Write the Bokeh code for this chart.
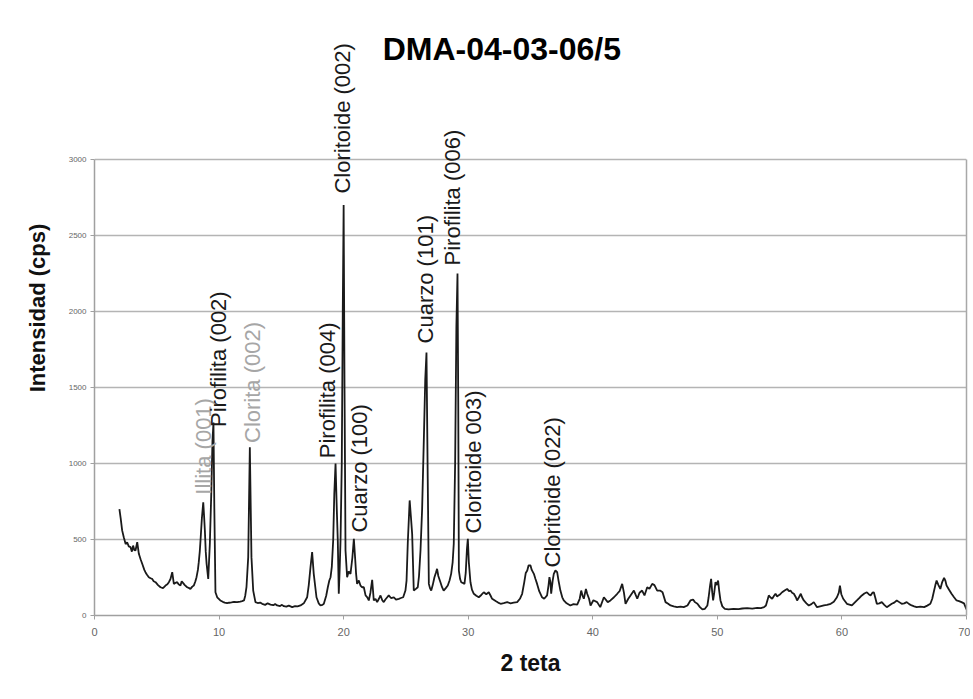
import math
from bokeh.plotting import figure
from bokeh.models import Range1d, ColumnDataSource, LabelSet, Label, FixedTicker, LinearAxis
from bokeh.core.properties import value
from bokeh.embed import file_html
from bokeh.resources import INLINE

# ---- data (2-theta in degrees, intensity in cps) ----
two_theta = [
    2.0, 2.1, 2.22, 2.35, 2.5, 2.62, 2.75, 2.89, 3.0, 3.1,
    3.2, 3.29, 3.43, 3.56, 3.7, 3.83, 4.0, 4.09, 4.2, 4.36,
    4.5, 4.63, 4.75, 4.9, 5.1, 5.3, 5.5, 5.7, 5.85, 5.97,
    6.1, 6.24, 6.37, 6.5, 6.64, 6.75, 6.9, 7.0, 7.12, 7.25,
    7.44, 7.6, 7.7, 7.85, 7.97, 8.1, 8.19, 8.3, 8.37, 8.45,
    8.51, 8.62, 8.73, 8.8, 8.86, 8.93, 9.0, 9.13, 9.26, 9.38,
    9.47, 9.55, 9.62, 9.71, 9.85, 10.1, 10.3, 10.45, 10.65, 10.8,
    11.0, 11.2, 11.45, 11.7, 11.85, 12.0, 12.1, 12.2, 12.34, 12.47,
    12.6, 12.74, 12.92, 13.1, 13.3, 13.46, 13.7, 13.9, 14.13, 14.35,
    14.5, 14.66, 14.9, 15.05, 15.2, 15.4, 15.6, 15.87, 16.1, 16.3,
    16.54, 16.8, 17.07, 17.2, 17.34, 17.47, 17.6, 17.82, 18.0, 18.14,
    18.3, 18.41, 18.6, 18.73, 18.85, 18.95, 19.05, 19.16, 19.25, 19.35,
    19.45, 19.53, 19.61, 19.68, 19.75, 19.85, 19.93, 20.0, 20.07, 20.15,
    20.28, 20.4, 20.55, 20.7, 20.82, 20.92, 21.0, 21.08, 21.22, 21.35,
    21.49, 21.62, 21.76, 21.9, 22.02, 22.15, 22.29, 22.42, 22.56, 22.69,
    22.83, 22.96, 23.1, 23.22, 23.35, 23.5, 23.62, 23.8, 24.03, 24.2,
    24.43, 24.6, 24.78, 24.96, 25.05, 25.15, 25.3, 25.4, 25.5, 25.63,
    25.8, 25.95, 26.05, 26.17, 26.3, 26.45, 26.55, 26.65, 26.75, 26.84,
    26.93, 27.03, 27.15, 27.29, 27.4, 27.5, 27.6, 27.77, 27.9, 28.03,
    28.2, 28.36, 28.5, 28.63, 28.75, 28.84, 28.95, 29.05, 29.14, 29.2,
    29.25, 29.35, 29.44, 29.55, 29.7, 29.8, 29.9, 29.97, 30.05, 30.18,
    30.3, 30.45, 30.65, 30.85, 31.05, 31.25, 31.45, 31.65, 31.8, 31.92,
    32.2, 32.4, 32.6, 32.85, 33.13, 33.4, 33.65, 33.93, 34.15, 34.33,
    34.5, 34.62, 34.74, 34.85, 35.0, 35.1, 35.27, 35.4, 35.53, 35.7,
    35.93, 36.1, 36.33, 36.45, 36.52, 36.6, 36.66, 36.78, 36.87, 37.0,
    37.14, 37.25, 37.4, 37.55, 37.67, 37.9, 38.2, 38.45, 38.75, 38.95,
    39.07, 39.18, 39.28, 39.45, 39.55, 39.7, 39.82, 40.05, 40.35, 40.6,
    40.89, 41.2, 41.42, 41.7, 41.96, 42.15, 42.36, 42.5, 42.63, 42.85,
    43.03, 43.3, 43.57, 43.75, 43.96, 44.15, 44.37, 44.55, 44.77, 44.95,
    45.17, 45.4, 45.6, 45.84, 46.05, 46.24, 46.5, 46.77, 47.05, 47.3,
    47.6, 47.84, 48.05, 48.2, 48.4, 48.6, 48.8, 49.0, 49.2, 49.3,
    49.42, 49.5, 49.58, 49.66, 49.75, 49.85, 49.95, 50.06, 50.15, 50.25,
    50.4, 50.6, 50.9, 51.3, 51.7, 52.0, 52.4, 52.8, 53.2, 53.5,
    53.75, 53.9, 54.13, 54.25, 54.4, 54.55, 54.67, 54.8, 54.9, 55.05,
    55.2, 55.4, 55.6, 55.75, 55.87, 56.0, 56.14, 56.3, 56.4, 56.55,
    56.7, 56.8, 56.94, 57.15, 57.34, 57.55, 57.74, 58.0, 58.25, 58.55,
    58.8, 59.1, 59.35, 59.6, 59.75, 59.84, 59.95, 60.1, 60.4, 60.8,
    61.2, 61.45, 61.6, 61.8, 62.0, 62.15, 62.3, 62.45, 62.56, 62.7,
    62.8, 63.0, 63.2, 63.4, 63.6, 63.8, 64.0, 64.2, 64.4, 64.6,
    64.8, 65.0, 65.2, 65.4, 65.6, 65.8, 66.0, 66.3, 66.6, 66.85,
    67.1, 67.25, 67.4, 67.5, 67.6, 67.75, 67.9, 68.05, 68.2, 68.3,
    68.4, 68.6, 68.8, 69.0, 69.2, 69.4, 69.6, 69.8, 70.0,
]
intensity = [
    700, 640, 560, 515, 470, 482, 455, 450, 420, 460,
    430, 428, 482, 406, 370, 340, 300, 285, 270, 252,
    245, 241, 225, 219, 200, 186, 180, 197, 205, 219,
    240, 285, 208, 215, 219, 205, 197, 225, 213, 200,
    186, 180, 175, 190, 197, 225, 252, 300, 351, 420,
    493, 640, 745, 650, 559, 420, 340, 241, 474, 820,
    1150, 1270, 700, 153, 120, 99, 90, 85, 81, 84,
    86, 90, 88, 92, 95, 99, 130, 186, 384, 1107,
    384, 164, 88, 82, 85, 77, 70, 80, 72, 68,
    75, 66, 62, 70, 61, 58, 65, 55, 62, 60,
    66, 80, 120, 200, 318, 417, 274, 120, 80, 66,
    70, 77, 130, 186, 230, 252, 320, 493, 800, 1000,
    700, 493, 143, 300, 493, 1000, 2000, 2700, 1500, 428,
    252, 290, 274, 380, 505, 380, 274, 208, 230, 197,
    186, 186, 132, 120, 99, 150, 235, 99, 110, 88,
    110, 132, 100, 88, 105, 120, 132, 115, 120, 105,
    110, 115, 120, 164, 230, 480, 757, 650, 537, 164,
    175, 186, 260, 428, 700, 1200, 1550, 1730, 900, 208,
    180, 164, 200, 252, 280, 307, 260, 219, 186, 164,
    180, 197, 230, 274, 350, 472, 1000, 1900, 2250, 1400,
    296, 240, 219, 215, 208, 280, 440, 505, 350, 219,
    170, 143, 130, 120, 135, 153, 140, 153, 130, 110,
    95, 85, 77, 82, 88, 80, 85, 88, 110, 143,
    220, 280, 296, 330, 329, 300, 274, 240, 208, 160,
    120, 110, 132, 200, 252, 220, 143, 230, 274, 296,
    285, 230, 164, 120, 99, 80, 66, 75, 72, 110,
    164, 130, 110, 175, 143, 110, 66, 100, 88, 55,
    120, 88, 99, 120, 143, 160, 208, 150, 77, 110,
    132, 164, 110, 150, 164, 132, 186, 175, 208, 200,
    164, 164, 153, 88, 77, 66, 60, 55, 58, 55,
    66, 99, 105, 88, 77, 55, 40, 44, 66, 120,
    200, 241, 160, 99, 150, 219, 200, 230, 160, 99,
    60, 44, 40, 44, 42, 46, 48, 45, 50, 48,
    55, 66, 132, 120, 110, 130, 143, 125, 132, 140,
    153, 165, 175, 160, 164, 150, 143, 120, 99, 120,
    143, 120, 99, 80, 66, 75, 88, 55, 60, 66,
    70, 77, 90, 120, 150, 197, 140, 110, 77, 66,
    99, 120, 132, 145, 153, 140, 132, 150, 153, 110,
    77, 80, 88, 70, 55, 66, 77, 85, 99, 88,
    77, 80, 88, 75, 66, 60, 55, 58, 55, 65,
    77, 110, 164, 200, 230, 200, 175, 220, 248, 230,
    197, 170, 143, 120, 99, 95, 88, 80, 40,
]

# peak annotations
peak_labels = ["Illita (001)", "Pirofilita (002)", "Clorita (002)", "Pirofilita (004)",
               "Cloritoide (002)", "Cuarzo (100)", "Cuarzo (101)", "Pirofilita (006)",
               "Cloritoide 003)", "Cloritoide (022)"]
peak_label_x = [8.75, 9.95, 12.68, 18.7, 19.9, 21.27, 26.57, 28.74, 30.4, 36.75]
peak_label_y = [795, 1240, 1135, 1035, 2776, 546, 1790, 2303, 540, 316]
peak_label_color = ["#a6a6a6", "#1a1a1a", "#a6a6a6", "#1a1a1a", "#1a1a1a",
                    "#1a1a1a", "#1a1a1a", "#1a1a1a", "#1a1a1a", "#1a1a1a"]

x_ticks = [0, 10, 20, 30, 40, 50, 60, 70]
y_ticks = [0, 500, 1000, 1500, 2000, 2500, 3000]
y_axis_max = 3000

title_text = "DMA-04-03-06/5"
title_x = 32.7
title_y = 3730
x_title = "2 teta"
y_title = "Intensidad (cps)"

FONT = "Liberation Sans"

# layout: plot area (0..3000) spans 456 px; extra headroom above holds title & labels
W, H = 970, 696
B_LEFT, B_RIGHT, B_TOP, B_BOTTOM = 94, 4, 0, 81
frame_h = H - B_TOP - B_BOTTOM
y_top = y_axis_max * frame_h / 456.0

p = figure(width=W, height=H, output_backend="svg", toolbar_location=None,
           x_range=Range1d(0, 70), y_range=Range1d(0, y_top),
           min_border_left=B_LEFT, min_border_right=B_RIGHT,
           min_border_top=B_TOP, min_border_bottom=B_BOTTOM)
p.background_fill_color = "white"
p.border_fill_color = "white"
p.outline_line_color = None

p.xgrid.visible = False
p.ygrid.grid_line_color = "#b4b4b4"
p.ygrid.grid_line_width = 1.5
p.ygrid.ticker = FixedTicker(ticks=y_ticks)

p.xaxis.ticker = FixedTicker(ticks=x_ticks)
p.yaxis.ticker = FixedTicker(ticks=y_ticks)
p.yaxis.bounds = (0, y_axis_max)
for ax in (p.xaxis[0], p.yaxis[0]):
    ax.axis_line_color = "#a0a0a0"
    ax.axis_line_width = 1.5
    ax.major_tick_line_color = "#a0a0a0"
    ax.major_tick_in = 0
    ax.major_tick_out = 4
    ax.minor_tick_line_color = None
    ax.major_label_text_font = FONT
    ax.major_label_text_color = "#666666"
    ax.axis_label_text_font = FONT
    ax.axis_label_text_font_style = "bold"
    ax.axis_label_text_color = "#111111"

p.xaxis.major_label_text_font_size = "11px"
p.xaxis.major_label_standoff = 8
p.xaxis.axis_label = x_title
p.xaxis.axis_label_text_font_size = "23px"
p.xaxis.axis_label_standoff = 11

p.yaxis.major_label_text_font_size = "8px"
p.yaxis.major_label_standoff = 4
p.yaxis.major_label_orientation = "horizontal"
p.yaxis.axis_label = y_title
p.yaxis.axis_label_text_font_size = "22px"
p.yaxis.axis_label_standoff = 16

# right border of the plot area
right_axis = LinearAxis(bounds=(0, y_axis_max), ticker=FixedTicker(ticks=[]),
                        axis_line_color="#a8a8a8", axis_line_width=1.5,
                        major_tick_line_color=None, minor_tick_line_color=None,
                        major_label_text_font_size="0px")
p.add_layout(right_axis, "right")

p.line(two_theta, intensity, line_color="#1a1a1a", line_width=1.8)

src = ColumnDataSource(dict(x=peak_label_x, y=peak_label_y, t=peak_labels, c=peak_label_color))
p.add_layout(LabelSet(x="x", y="y", text="t", source=src, angle=math.pi / 2,
                      text_align="left", text_baseline="middle",
                      text_font=value(FONT), text_font_size="22px", text_color="c"))

p.add_layout(Label(x=title_x, y=title_y, text=title_text, text_align="center", text_baseline="middle",
                   text_font=FONT, text_font_size="32px", text_font_style="bold",
                   text_color="#000000"))

open("out.html", "w").write(file_html(p, INLINE))
